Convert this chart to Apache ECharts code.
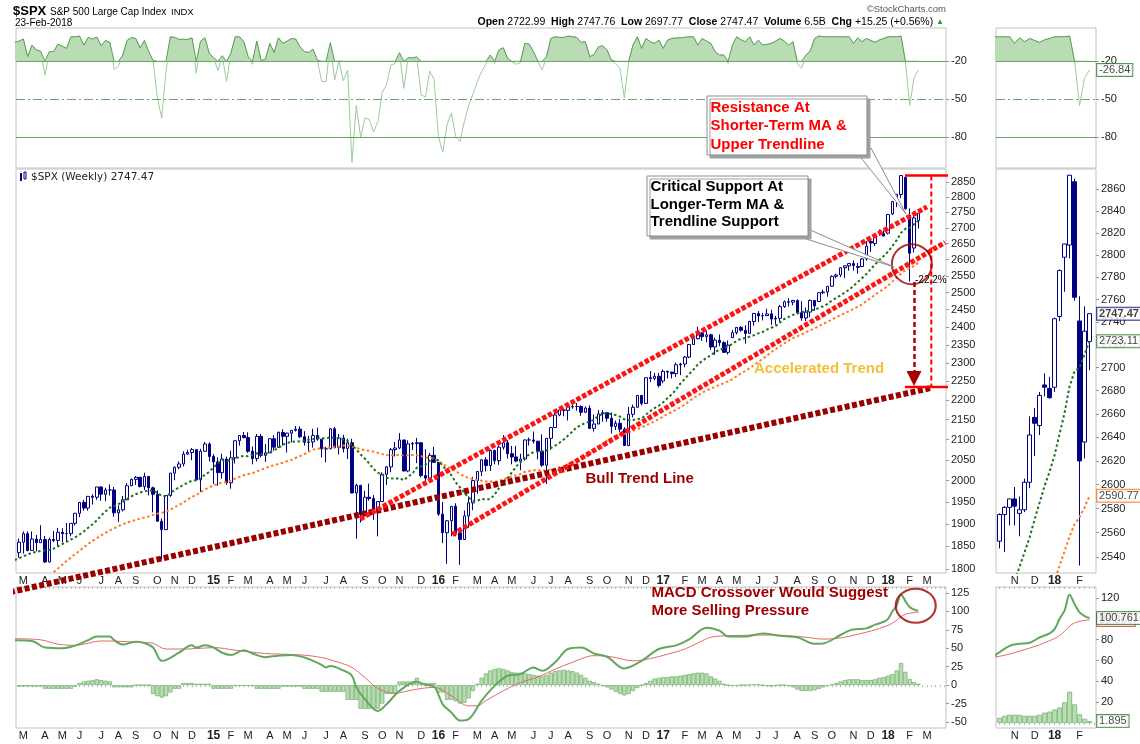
<!DOCTYPE html>
<html><head><meta charset="utf-8"><title>$SPX Weekly</title>
<script src="https://cdn.jsdelivr.net/npm/echarts@6/dist/echarts.min.js"></script>
<style>html,body{margin:0;padding:0;background:#fff;}#chart{width:1140px;height:744px;}</style>
</head><body><div id="chart"></div>
<script>
// ================= DATA (weekly bars, week ending Fridays) =================
const firstWeekEnding = '2014-02-21';
const opens = [
1838,1836,1859,1878,1841,1866,1858,1865,1816,1865,
1863,1881,1878,1878,1901,1924,1949,1936,1963,1961,
1985,1968,1978,1978,1925,1932,1955,1988,2003,2008,
1986,2010,1983,1968,1906,1887,1965,2018,2032,2040,
2064,2068,2075,2002,2071,2089,2058,2045,2019,2052,
1995,2055,2097,2110,2105,2071,2053,2108,2061,2067,
2102,2081,2118,2108,2116,2123,2126,2107,2093,2094,
2110,2101,2077,2077,2127,2080,2104,2078,2092,1971,
1989,1921,1961,1958,1931,1951,2015,2033,2075,2079,
2099,2023,2089,2090,2092,2012,2006,2061,2044,1922,
1880,1907,1940,1880,1865,1918,1948,2000,2022,2050,
2036,2073,2048,2081,2092,2065,2057,2047,2052,2099,
2099,2096,2071,2037,2103,2130,2162,2175,2174,2183,
2184,2184,2169,2180,2128,2139,2165,2168,2154,2133,
2141,2126,2085,2164,2182,2213,2192,2260,2258,2264,
2251,2277,2275,2271,2295,2297,2316,2351,2367,2383,
2373,2378,2344,2363,2356,2329,2370,2384,2399,2391,
2382,2416,2439,2432,2433,2438,2423,2425,2459,2473,
2472,2477,2441,2426,2443,2477,2474,2500,2502,2519,
2549,2553,2575,2581,2588,2576,2579,2602,2657,2650,
2685,2682,2683,2745,2798,2809,2867,2741,2636,2722.99];
const closes = [
1836,1859,1878,1841,1866,1858,1865,1816,1865,1863,
1881,1878,1878,1901,1924,1949,1936,1963,1961,1985,
1968,1978,1978,1925,1932,1955,1988,2003,2008,1986,
2010,1983,1968,1906,1887,1965,2018,2032,2040,2064,
2068,2075,2002,2071,2089,2058,2045,2019,2052,1995,
2055,2097,2110,2105,2071,2053,2108,2061,2067,2102,
2081,2118,2108,2116,2123,2126,2107,2093,2094,2110,
2101,2077,2077,2127,2080,2104,2078,2092,1971,1989,
1921,1961,1958,1931,1951,2015,2033,2075,2079,2099,
2023,2089,2090,2092,2012,2006,2061,2044,1922,1880,
1907,1940,1880,1865,1918,1948,2000,2022,2050,2036,
2073,2048,2081,2092,2065,2057,2047,2052,2099,2099,
2096,2071,2037,2103,2130,2162,2175,2174,2183,2184,
2184,2169,2180,2128,2139,2165,2168,2154,2133,2141,
2126,2085,2164,2182,2213,2192,2260,2258,2264,2239,
2277,2275,2271,2295,2297,2316,2351,2367,2383,2373,
2378,2344,2363,2356,2329,2349,2384,2399,2391,2382,
2416,2439,2432,2433,2438,2423,2425,2459,2473,2472,
2477,2441,2426,2443,2477,2461,2500,2502,2519,2549,
2553,2575,2581,2588,2582,2579,2602,2642,2652,2676,
2683,2674,2743,2786,2810,2873,2762,2620,2732,2747.47];
const highs = [
1847,1867,1883,1883,1883,1875,1897,1873,1869,1884,
1891,1890,1902,1901,1924,1950,1955,1963,1968,1985,
1986,1983,1991,1985,1942,1964,1994,2005,2011,2008,
2019,2011,1986,1977,1912,1966,2018,2034,2046,2071,
2075,2079,2076,2077,2094,2093,2064,2056,2065,2058,
2072,2097,2111,2119,2118,2083,2114,2114,2089,2103,
2111,2120,2126,2117,2124,2134,2133,2121,2109,2127,
2130,2101,2082,2129,2132,2114,2112,2102,2102,1993,
1989,1976,1993,1966,1952,2020,2034,2079,2094,2116,
2099,2098,2094,2104,2094,2076,2067,2082,2044,1950,
1908,1940,1947,1881,1930,1963,2009,2022,2052,2056,
2075,2075,2084,2111,2099,2084,2084,2065,2100,2105,
2120,2096,2113,2104,2132,2169,2175,2178,2183,2194,
2193,2187,2184,2187,2163,2175,2175,2169,2169,2148,
2152,2131,2183,2189,2214,2214,2260,2278,2273,2273,
2282,2279,2276,2301,2300,2319,2352,2368,2401,2386,
2390,2381,2370,2379,2360,2362,2392,2400,2403,2405,
2418,2441,2446,2441,2453,2450,2432,2464,2477,2484,
2478,2480,2475,2456,2480,2477,2500,2509,2520,2552,
2557,2576,2582,2588,2598,2590,2605,2658,2665,2679,
2695,2692,2744,2787,2810,2873,2870,2763,2754,2747.76];
const lows = [
1825,1825,1834,1839,1840,1839,1858,1814,1815,1859,
1851,1859,1862,1872,1896,1915,1930,1930,1944,1955,
1953,1952,1965,1916,1904,1928,1955,1987,1990,1984,
1978,1965,1926,1905,1821,1886,1962,2001,2027,2034,
2062,2049,2002,1973,2070,2046,1992,1988,2005,1990,
1981,2041,2085,2103,2067,2039,2046,2056,2045,2067,
2073,2079,2085,2068,2093,2120,2104,2085,2072,2080,
2097,2056,2044,2076,2078,2063,2068,2052,1970,1867,
1903,1921,1953,1909,1872,1951,1990,2020,2058,2076,
2022,2020,2074,2042,2008,1994,2005,2043,1918,1857,
1812,1872,1872,1810,1865,1891,1931,1969,2011,2022,
2023,2039,2038,2075,2053,2039,2044,2025,2048,2085,
2090,2051,2033,1992,2075,2130,2159,2159,2148,2178,
2173,2160,2167,2128,2120,2139,2145,2145,2115,2124,
2119,2084,2084,2156,2182,2187,2192,2248,2253,2234,
2245,2258,2258,2262,2267,2288,2313,2350,2365,2361,
2357,2336,2322,2346,2328,2323,2370,2379,2387,2353,
2380,2404,2415,2419,2431,2406,2407,2416,2455,2459,
2463,2437,2418,2417,2428,2447,2474,2496,2488,2519,
2543,2547,2544,2566,2566,2557,2577,2597,2624,2642,
2675,2673,2679,2741,2767,2797,2759,2533,2622,2697.77];
// 13-week moving average (green dotted)
const ma13 = [
1820,1824,1828,1832,1836,1838,1840,1841,1842,1845,
1850,1855,1860,1865,1870,1876,1883,1891,1899,1908,
1919,1928,1937,1940,1945,1950,1957,1963,1968,1972,
1975,1977,1976,1971,1964,1963,1970,1978,1984,1990,
1995,2000,2001,2006,2014,2021,2032,2042,2049,2047,
2049,2053,2057,2060,2059,2063,2066,2064,2065,2069,
2074,2079,2087,2092,2094,2095,2096,2097,2100,2101,
2104,2104,2102,2106,2103,2103,2100,2097,2086,2076,
2063,2053,2041,2028,2019,2014,2007,2006,2004,2006,
2001,2010,2017,2031,2034,2038,2048,2055,2048,2036,
2023,2013,1996,1984,1971,1960,1953,1953,1957,1955,
1957,1967,1982,1996,2006,2020,2034,2044,2056,2063,
2069,2071,2071,2073,2079,2085,2092,2100,2110,2120,
2131,2136,2142,2145,2150,2160,2165,2167,2164,2162,
2158,2151,2149,2149,2152,2153,2163,2172,2180,2186,
2195,2206,2216,2229,2245,2257,2270,2282,2296,2305,
2314,2321,2330,2336,2340,2346,2353,2361,2367,2369,
2373,2377,2382,2386,2393,2398,2403,2413,2423,2429,
2435,2439,2443,2445,2448,2450,2455,2460,2467,2477,
2484,2492,2500,2509,2520,2532,2544,2556,2571,2585,
2599,2611,2625,2643,2661,2684,2697,2700,2712,2723.11];
// 34-week moving average (orange dotted); below the panel floor before week 9
const ma34 = [
null,null,null,null,null,null,null,null,null,1794,
1802,1810,1818,1826,1833,1840,1848,1855,1862,1868,
1874,1880,1885,1890,1895,1899,1903,1906,1909,1912,
1914,1917,1920,1923,1925,1928,1932,1938,1943,1949,
1955,1962,1966,1973,1979,1984,1989,1992,1996,1997,
2001,2005,2009,2013,2016,2018,2022,2026,2030,2034,
2037,2040,2043,2047,2050,2055,2059,2064,2070,2075,
2077,2078,2079,2081,2082,2082,2085,2085,2082,2080,
2076,2074,2072,2070,2067,2064,2062,2061,2061,2063,
2060,2061,2062,2061,2059,2056,2055,2053,2047,2040,
2034,2029,2023,2016,2010,2006,2004,2001,2000,1998,
1998,1997,2000,2003,2007,2010,2013,2016,2021,2023,
2025,2025,2024,2024,2027,2029,2032,2034,2039,2044,
2048,2051,2059,2066,2073,2080,2088,2097,2103,2109,
2112,2114,2118,2122,2126,2130,2136,2140,2146,2152,
2158,2165,2170,2176,2182,2189,2198,2206,2213,2220,
2226,2231,2236,2241,2245,2250,2256,2264,2272,2278,
2286,2294,2303,2311,2320,2330,2338,2346,2354,2362,
2369,2374,2379,2385,2391,2396,2403,2409,2415,2422,
2428,2434,2440,2446,2452,2459,2466,2475,2484,2494,
2503,2511,2521,2533,2545,2557,2567,2573,2581,2590.77];
// Williams %R (top panel)
const willR = [
-5,-4,-2.4,-16.4,-7.2,-11,-12,-31,-12.4,-12.4,
-6.4,-8,-9.8,-0.6,-0.6,0,-7.2,-1.1,-2.4,-0.8,
-7.7,-3.5,-5,-26.4,-23.7,-15,-3.5,-1.1,-2,-9.3,
-3.5,-12.4,-19.3,-49,-65,-28,-0.6,-1.1,-2.7,-2.5,
-2.7,-1.4,-29.5,-4,-1.4,-13.7,-17,-27.4,-15.6,-36,
-13.7,-0.6,-0.6,-4.5,-16.4,-22.4,-4,-19.5,-18.2,-5.8,
-13,-1.4,-5.8,-4,-2,-2.4,-8.5,-12.4,-13,-10.3,
-19,-36,-36,-5.3,-34.8,-19.8,-35.3,-27,-100,-55,
-80,-65,-66,-76,-67.7,-44.5,-38.7,-23,-21.6,-13.2,
-41.4,-17.2,-17.2,-16.6,-46.6,-48.2,-27.7,-34.3,-79.6,-92,
-70,-61,-79.6,-83.5,-67.7,-55,-46,-36,-28,-22,
-15,-21.6,-11,-9.3,-17.7,-20.3,-22.4,-21,-5.8,-6.4,
-12.4,-20.3,-27,-16.4,-1.9,-0.6,-1,-1.1,0,-0.5,
-1.1,-5,-4.5,-16.4,-14.5,-8.5,-7.7,-11,-19,-22,
-25.6,-49,-20.3,-7.2,-0.6,-9.8,-1.9,-4.5,-5.8,-3.2,
-9.8,-3.2,-1.9,-1.5,-1.4,-1,-0.6,-0.6,-7.2,-1.9,
-4,-5.8,-12.4,-15,-15,-21.6,-7.2,-0.6,-3,-4.5,
-0.6,-7.2,-3.2,-7.2,-6.5,-5.8,-4,-1.9,-4,-7.2,
-4.5,-21.6,-25.6,-15,-11.9,-1.9,0,-0.5,-0.6,-0.5,
-0.6,-0.6,-0.6,-0.6,-5.8,-1.4,-4.5,-1.9,-3.5,-5,
-3,-1.9,-0.6,-0.5,-0.5,0,-20,-55,-33,-26.84];
// MACD line and signal line, read at [week, value]
const macdPoints = [[0,61],[4,60],[7,51],[11,50],[13,52],[15,56],[17,61],[19,66],[22,66],[23,61],[25,55],[28,59],[30,57],[32,51],[34,33],[35,34],[38,44],[41,54],[42,51],[44,54],[46,51],[48,44],[50,41],[53,47.5],[55,43],[58,38],[61,40],[64,41],[67,37.5],[69,33],[71,27.6],[72,24],[73,26],[76,20],[78,12.7],[79,-3],[81,-19],[84,-35],[86,-26],[89,-7.7],[93,4.5],[95,0.5],[97,-2],[99,-26],[101,-37],[103,-48],[105,-46],[108,-21],[111,-1],[114,12.7],[117,15],[120,24],[122,19.5],[125,31],[128,49],[131,51],[134,43],[137,38.5],[141,22.6],[145,33],[149,49],[153,54],[156,62],[160,78],[163,74],[165,66],[169,66],[173,70],[177,67],[181,65],[185,56],[187,56.6],[191,68],[193,74],[195,76],[197,77],[199,82],[201,86],[202,90],[203,100],[204,108],[205,123],[206,114],[207,106],[208,102.6],[209,100.761]];
const signalPoints = [[0,63],[6,61.5],[10,55.6],[14,54],[20,60],[26,59],[30,58],[32,56.6],[35,49],[40,49],[46,51],[51,47.5],[58,43],[66,41],[71,37.5],[75,30.8],[78,24],[81,10.4],[84,-4.5],[88,-11],[91,-7.7],[94,-4.5],[97,-3],[101,-14.5],[105,-28],[107,-28],[109,-21],[113,-7.7],[117,3.6],[121,11],[125,21.7],[129,31],[134,40],[138,38.5],[143,33],[147,36],[151,42],[155,49],[159,60],[161,65],[165,67],[175,68],[183,65],[187,62.4],[191,64],[195,69],[199,75],[201,79],[202,81],[203,84],[204,88],[205,93],[206,96],[207,97.5],[208,98.4],[209,98.866]];
const macdHist = [
-2,-2,-2,-2,-2,-2,-2,-5,-5,-5,
-5,-5,-5,-5,-2,3,5,6,7,8,
7,6,5,-3,-3,-3,-3,-3,0,0,
0,0,-12,-15,-17,-15,-10,-5,-5,3,
3,3,2,2,2,2,-5,-5,-5,-5,
-5,-1,-1,-1,-1,-1,-5,-5,-5,-5,
-5,-5,-2,-2,-2,-2,-2,-5,-5,-5,
-5,-9,-9,-9,-9,-9,-9,-20,-20,-20,
-32,-32,-32,-32,-32,-25,-12,-12,-12,5,
5,5,5,10,3,3,3,3,-10,-10,
-20,-20,-22,-25,-24,-18,-8,2,10,16,
20,22,23,22,20,18,17,17,16,15,
14,13,12,14,17,19,20,21,20,19,
17,14,10,6,4,2,-1,-3,-6,-9,
-12,-14,-12,-8,-4,0,3,6,9,10,
11,11,12,12,13,14,15,16,17,17,
16,12,9,6,2,0,-1,-1,0,0,
1,1,1,0,-1,-2,-1,0,0,-1,
-3,-6,-8,-8,-8,-7,-5,-3,-1,1,
3,5,7,8,8,8,7,7,7,8,
10,11,13,15,20,30,18,8.5,4.2,1.895];
// annotation drawings in [week, price]
const upperChannel = [[79.9,1911],[211.0,2768]];
const lowerChannel = [[101.2,1876],[215.2,2654]];
const bullTrendLine = [[-1.1,1752],[211.7,2232]];
const rangeHigh = 2873, rangeLow = 2235, rangeWeeks = [205.9, 218];
const rangeMarkerWeek = 212;
const arrowLine = [[208,2532],[208,2258]];
const supportCircle = [207.5, 2586];
const macdCircle = [208.4, 107.7];
// axis ticks
const priceTicks = [1800,1850,1900,1950,2000,2050,2100,2150,2200,2250,2300,2350,2400,2450,2500,2550,2600,2650,2700,2750,2800,2850];
const miniPriceTicks = [2540,2560,2580,2600,2620,2640,2660,2680,2700,2720,2740,2760,2780,2800,2820,2840,2860];
const wrTicks = [-20,-50,-80];
const macdTicks = [-50,-25,0,25,50,75,100,125];
const miniMacdTicks = [20,40,60,80,100,120];

// ================= CHART =================
const chart = echarts.init(document.getElementById('chart'));
const ln = Math.log;
const FONT = '"Liberation Sans", Arial, sans-serif';
const weekCount = 216;
const t0 = Date.parse(firstWeekEnding + 'T00:00:00Z');
const weekDates = [];
for (let i = 0; i < weekCount; i++) weekDates.push(new Date(t0 + i * 7 * 864e5));
const MONTHS = 'JFMAMJJASOND';
const monthLabel = {};
for (let i = 1; i < weekCount; i++) {
  const a = new Date(weekDates[i - 1].getTime() - 4 * 864e5);
  const b = new Date(weekDates[i].getTime() - 4 * 864e5);
  if (a.getUTCMonth() !== b.getUTCMonth()) {
    monthLabel[i] = b.getUTCMonth() === 0 ? '{y|' + String(b.getUTCFullYear()).slice(2) + '}' : MONTHS[b.getUTCMonth()];
  }
}
const labelIdx = Object.keys(monthLabel).map(Number).filter(v => v <= 212);
const weekIdx = Array.from({length: weekCount}, (_, i) => i);
const mainRange = [0.3, 215.4], miniRange = [190.28, 210.28];
const inR = (arr, r) => arr.filter(v => v >= r[0] && v <= r[1]);

function xAx(gridIndex, r, extra) {
  return Object.assign({type: 'value', gridIndex, min: r[0], max: r[1],
    axisLine: {show: false}, axisTick: {show: false}, splitLine: {show: false}, axisLabel: {show: false}}, extra || {});
}
const xLabel = r => ({show: true, customValues: inR(labelIdx, r), formatter: v => monthLabel[Math.round(v)] || '',
  margin: 2, fontSize: 11, color: '#222', fontFamily: FONT,
  rich: {y: {fontWeight: 'bold', fontSize: 12, color: '#222', fontFamily: FONT}}});
const xTicks = (r, inside) => ({show: true, inside: !!inside, customValues: inR(weekIdx, r), length: 2, lineStyle: {color: '#b8b8b8'}});

function yAx(gridIndex, min, max, ticks, fmt) {
  return {type: 'value', gridIndex, min, max, position: 'right',
    axisLine: {show: false}, splitLine: {show: false},
    axisTick: {show: true, customValues: ticks, length: 3, lineStyle: {color: '#9a9a9a'}},
    axisLabel: {show: true, customValues: ticks, formatter: fmt, margin: 5, fontSize: 11, color: '#222', fontFamily: FONT}};
}
const fmtInt = v => String(Math.round(v));
const fmtPrice = v => String(Math.round(Math.exp(v)));

const gridStyle = {show: true, borderColor: '#c2c2c2', borderWidth: 1, backgroundColor: 'rgba(0,0,0,0)'};
const grids = [
  Object.assign({left: 16, top: 28, width: 930, height: 140}, gridStyle),
  Object.assign({left: 16, top: 169, width: 930, height: 404}, gridStyle),
  Object.assign({left: 16, top: 587, width: 930, height: 141}, gridStyle),
  Object.assign({left: 996, top: 28, width: 100, height: 140}, gridStyle),
  Object.assign({left: 996, top: 169, width: 100, height: 404}, gridStyle),
  Object.assign({left: 996, top: 587, width: 100, height: 141}, gridStyle)
];
const xAxes = [
  xAx(0, mainRange),
  xAx(1, mainRange, {axisLabel: xLabel(mainRange)}),
  xAx(2, mainRange, {position: 'bottom', axisLabel: xLabel(mainRange), axisTick: xTicks(mainRange)}),
  xAx(2, mainRange, {position: 'top', axisTick: xTicks(mainRange, true)}),
  xAx(3, miniRange),
  xAx(4, miniRange, {axisLabel: xLabel(miniRange)}),
  xAx(5, miniRange, {position: 'bottom', axisLabel: xLabel(miniRange), axisTick: xTicks(miniRange)}),
  xAx(5, miniRange, {position: 'top', axisTick: xTicks(miniRange, true)})
];
const yAxes = [
  yAx(0, -104.5, 6.4, wrTicks, fmtInt),
  yAx(1, ln(1792.3), ln(2895.4), priceTicks.map(ln), fmtPrice),
  yAx(2, -58.1, 133.1, macdTicks, fmtInt),
  yAx(3, -104.5, 6.4, wrTicks, fmtInt),
  yAx(4, ln(2526.9), ln(2878.8), miniPriceTicks.map(ln), fmtPrice),
  yAx(5, -4.7, 130.4, miniMacdTicks, fmtInt)
];

const wrPts = willR.map((v, i) => [i, v]);
const wrAbove = willR.map((v, i) => [i, Math.max(v, -20)]);
const candleData = closes.map((c, i) => [i, ln(opens[i]), ln(c), ln(lows[i]), ln(highs[i])]);
const ma13Pts = ma13.map((v, i) => [i, ln(v)]);
const ma34Pts = ma34.map((v, i) => v == null ? null : [i, ln(v)]).filter(Boolean);
const histPts = macdHist.map((v, i) => [i, v]);
const lnPts = arr => arr.map(p => [p[0], ln(p[1])]);
// keep only bars whose whole width lies inside a panel's week range
const within = (pts, r) => pts.filter(p => p[0] - 0.5 >= r[0] - 0.25 && p[0] + 0.5 <= r[1] + 0.25);

function wrSeries(xi, yi) {
  return [
    {type: 'line', xAxisIndex: xi, yAxisIndex: yi, data: wrPts, symbol: 'none', silent: true, z: 3,
      lineStyle: {color: '#9ccb97', width: 1}},
    {type: 'line', xAxisIndex: xi, yAxisIndex: yi, data: wrAbove, symbol: 'none', silent: true, z: 4,
      lineStyle: {color: '#5d9d59', width: 1},
      areaStyle: {color: '#b9dcb4', opacity: 1, origin: -20},
      markLine: {silent: true, symbol: 'none', label: {show: false}, animation: false,
        lineStyle: {color: '#6aa566', width: 1, type: 'solid'},
        data: [{yAxis: -20}, {yAxis: -80}, {yAxis: -50, lineStyle: {type: [9, 3, 2, 3], color: '#6aa566'}}]}}
  ];
}
function priceSeries(xi, yi, w, r) {
  return [
    {type: 'candlestick', xAxisIndex: xi, yAxisIndex: yi, data: r ? within(candleData, r) : candleData, encode: {x: 0, y: [1, 2, 3, 4]},
      barWidth: w, silent: true, clip: true, z: 5,
      itemStyle: {color: '#ffffff', color0: '#000080', borderColor: '#000080', borderColor0: '#000080', borderWidth: 1}},
    {type: 'line', xAxisIndex: xi, yAxisIndex: yi, data: ma34Pts, symbol: 'none', silent: true, z: 6,
      lineStyle: {color: '#ff7a1f', width: 2, type: [2.5, 2.5]}},
    {type: 'line', xAxisIndex: xi, yAxisIndex: yi, data: ma13Pts, symbol: 'none', silent: true, z: 6,
      lineStyle: {color: '#1a731a', width: 2, type: [2.5, 2.5]}}
  ];
}
function macdSeries(xi, yi, w, r) {
  return [
    {type: 'bar', xAxisIndex: xi, yAxisIndex: yi, data: within(histPts, r), barWidth: w, silent: true, clip: true, z: 3,
      itemStyle: {color: '#b9dcb3', borderColor: '#7ab575', borderWidth: 0.8}},
    {type: 'line', xAxisIndex: xi, yAxisIndex: yi, data: signalPoints, smooth: 0.35, symbol: 'none', silent: true, z: 4,
      lineStyle: {color: '#e06a6a', width: 1}},
    {type: 'line', xAxisIndex: xi, yAxisIndex: yi, data: macdPoints, smooth: 0.35, symbol: 'none', silent: true, z: 5,
      lineStyle: {color: '#63a75f', width: 2}}
  ];
}
function tag(xi, yi, y, text, border, bold) {
  return {type: 'scatter', xAxisIndex: xi, yAxisIndex: yi, data: [[209, y]], symbolSize: 1, silent: true, z: 20,
    itemStyle: {color: 'rgba(0,0,0,0)'},
    label: {show: true, position: 'right', distance: 7, formatter: text, fontSize: 11, fontFamily: FONT,
      fontWeight: bold ? 'bold' : 'normal', color: '#111', backgroundColor: '#fff',
      borderColor: border, borderWidth: 1, padding: [1, 2, 0, 2]}};
}

const series = [].concat(
  wrSeries(0, 0),
  priceSeries(1, 1, 3),
  [
    {type: 'line', xAxisIndex: 1, yAxisIndex: 1, data: lnPts(bullTrendLine), symbol: 'none', clip: false, silent: true, z: 7,
      lineStyle: {color: '#990000', width: 6, type: [5, 2.5]}},
    {type: 'line', xAxisIndex: 1, yAxisIndex: 1, data: lnPts(upperChannel), symbol: 'none', clip: false, silent: true, z: 8,
      lineStyle: {color: '#ff1414', width: 5, type: [4.5, 2]}},
    {type: 'line', xAxisIndex: 1, yAxisIndex: 1, data: lnPts(lowerChannel), symbol: 'none', clip: false, silent: true, z: 8,
      lineStyle: {color: '#ff1414', width: 5, type: [4.5, 2]}},
    {type: 'line', xAxisIndex: 1, yAxisIndex: 1, data: [[rangeWeeks[0], ln(rangeHigh)], [rangeWeeks[1], ln(rangeHigh)]],
      symbol: 'none', clip: false, silent: true, z: 9, lineStyle: {color: '#ff0000', width: 2.5}},
    {type: 'line', xAxisIndex: 1, yAxisIndex: 1, data: [[rangeWeeks[0], ln(rangeLow)], [rangeWeeks[1], ln(rangeLow)]],
      symbol: 'none', clip: false, silent: true, z: 9, lineStyle: {color: '#ff0000', width: 2.5}},
    {type: 'line', xAxisIndex: 1, yAxisIndex: 1, data: [[rangeMarkerWeek, ln(rangeHigh)], [rangeMarkerWeek, ln(rangeLow)]],
      symbol: 'none', clip: false, silent: true, z: 9, lineStyle: {color: '#ff0000', width: 2, type: [5, 3]}},
    {type: 'lines', coordinateSystem: 'cartesian2d', xAxisIndex: 1, yAxisIndex: 1, silent: true, z: 9,
      data: [{coords: lnPts(arrowLine)}], symbol: ['none', 'triangle'], symbolSize: [1, 15],
      lineStyle: {color: '#a80000', width: 2.5, type: [5, 3], opacity: 1}},
    {type: 'scatter', xAxisIndex: 1, yAxisIndex: 1, data: [[supportCircle[0], ln(supportCircle[1])]], symbol: 'circle',
      symbolSize: 40, silent: true, z: 10, itemStyle: {color: 'rgba(0,0,0,0)', borderColor: '#a00000', borderWidth: 2}}
  ],
  macdSeries(2, 2, 4.3, mainRange),
  [{type: 'scatter', xAxisIndex: 2, yAxisIndex: 2, data: [macdCircle], symbol: 'circle', symbolSize: [40, 34],
    silent: true, z: 10, itemStyle: {color: 'rgba(0,0,0,0)', borderColor: '#a00000', borderWidth: 2}}],
  wrSeries(4, 3),
  priceSeries(5, 4, 4, miniRange),
  macdSeries(6, 5, 5, miniRange),
  [
    tag(4, 3, willR[209], '-26.84', '#2e7d32'),
    tag(5, 4, ln(closes[209]), '2747.47', '#000080', true),
    tag(5, 4, ln(ma13[209]), '2723.11', '#2e7d32'),
    tag(5, 4, ln(ma34[209]), '2590.77', '#ff6a00'),
    tag(6, 5, 98.866, '98.866', '#d32f2f'),
    tag(6, 5, 100.761, '100.761', '#2e7d32'),
    tag(6, 5, macdHist[209], '1.895', '#2e7d32')
  ]
);

function txt(x, y, text, font, fill, align, extra) {
  return {type: 'text', x: x, y: y, z: 110, silent: true,
    style: Object.assign({text: text, font: font, fill: fill || '#000', textAlign: align || 'left', align: align || 'left',
      textVerticalAlign: 'middle', verticalAlign: 'middle'}, extra || {})};
}
const B15 = 'bold 15px ' + FONT;
const graphics = [
  txt(13, 11, '$SPX', 'bold 13px ' + FONT, '#000'),
  txt(50, 12, 'S&P 500 Large Cap Index', '10px ' + FONT, '#000'),
  txt(171, 12, 'INDX', '9.5px ' + FONT, '#000'),
  txt(946, 9, '\u00A9StockCharts.com', '9.5px ' + FONT, '#555', 'right'),
  txt(15, 23, '23-Feb-2018', '10px ' + FONT, '#000'),
  txt(944, 22, '{b|Open} 2722.99  {b|High} 2747.76  {b|Low} 2697.77  {b|Close} 2747.47  {b|Volume} 6.5B  {b|Chg} +15.25 (+0.56%) {g|\u25B2}',
    '10.5px ' + FONT, '#000', 'right',
    {rich: {b: {fontWeight: 'bold', fontSize: 10.5, fontFamily: FONT, fill: '#000'}, g: {fontSize: 8, fill: '#2e9b2e'}}}),
  {type: 'rect', z: 100, silent: true, shape: {x: 20, y: 173, width: 2, height: 8}, style: {fill: '#000080'}},
  {type: 'rect', z: 100, silent: true, shape: {x: 24, y: 172, width: 2, height: 7}, style: {fill: '#fff', stroke: '#000080', lineWidth: 1}},
  txt(31, 177, '$SPX (Weekly) 2747.47', '10.5px "DejaVu Sans", sans-serif', '#222'),
  // Resistance callout
  {type: 'polygon', z: 100, silent: true, shape: {points: [[858, 154], [871, 148], [906, 214]]},
    style: {fill: '#ffffff', stroke: '#8c8c8c', lineWidth: 1}},
  {type: 'rect', z: 101, silent: true, shape: {x: 707, y: 96, width: 160, height: 59},
    style: {fill: '#ffffff', stroke: '#8c8c8c', lineWidth: 1, shadowColor: '#a0a0a0', shadowOffsetX: 3, shadowOffsetY: 3, shadowBlur: 0}},
  txt(710.5, 108, 'Resistance At', B15, '#ff0000'),
  txt(710.5, 126.3, 'Shorter-Term MA &', B15, '#ff0000'),
  txt(710.5, 144.7, 'Upper Trendline', B15, '#ff0000'),
  // Critical support callout
  {type: 'polygon', z: 100, silent: true, shape: {points: [[797, 236], [808, 229], [894, 267]]},
    style: {fill: '#ffffff', stroke: '#8c8c8c', lineWidth: 1}},
  {type: 'rect', z: 101, silent: true, shape: {x: 647, y: 176, width: 161, height: 60},
    style: {fill: '#ffffff', stroke: '#8c8c8c', lineWidth: 1, shadowColor: '#a0a0a0', shadowOffsetX: 3, shadowOffsetY: 3, shadowBlur: 0}},
  txt(650.5, 186.7, 'Critical Support At', B15, '#000'),
  txt(650.5, 204.5, 'Longer-Term MA &', B15, '#000'),
  txt(650.5, 222.3, 'Trendline Support', B15, '#000'),
  txt(585.5, 478.5, 'Bull Trend Line', B15, '#990000'),
  txt(754, 368.5, 'Accelerated Trend', B15, '#f2c037'),
  txt(915, 280, '-22.2%', '10px ' + FONT, '#000'),
  txt(651.5, 593, 'MACD Crossover Would Suggest', B15, '#a00000'),
  txt(651.5, 611, 'More Selling Pressure', B15, '#a00000')
];

chart.setOption({
  animation: false,
  backgroundColor: '#ffffff',
  textStyle: {fontFamily: FONT},
  grid: grids,
  xAxis: xAxes,
  yAxis: yAxes,
  series: series,
  graphic: {elements: graphics}
});
</script></body></html>
